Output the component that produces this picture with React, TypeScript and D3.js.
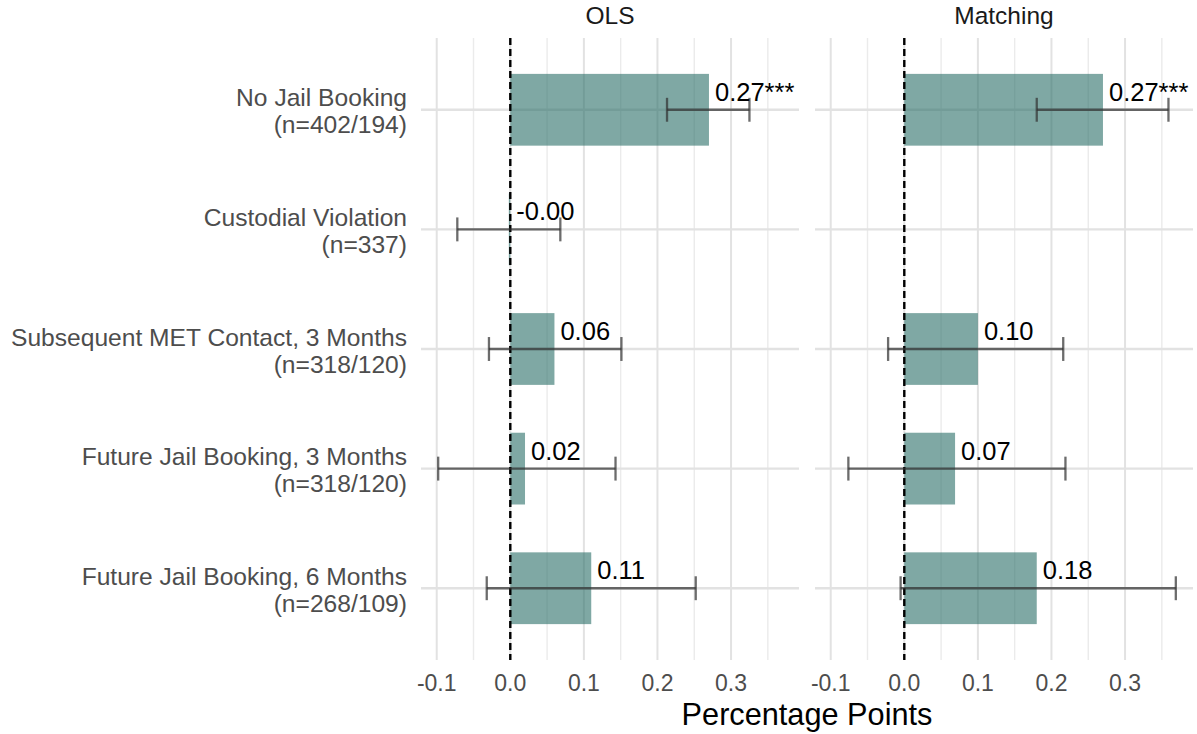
import * as d3 from "d3";

// outcome rows, top to bottom
const outcomes = [
  "No Jail Booking",
  "Custodial Violation",
  "Subsequent MET Contact, 3 Months",
  "Future Jail Booking, 3 Months",
  "Future Jail Booking, 6 Months",
];
const sampleSizes = ["(n=402/194)", "(n=337)", "(n=318/120)", "(n=318/120)", "(n=268/109)"];

const models = ["OLS", "Matching"];

const olsEstimate = [0.27, -0.002, 0.06, 0.02, 0.11];
const olsLower = [0.213, -0.072, -0.029, -0.098, -0.032];
const olsUpper = [0.325, 0.068, 0.151, 0.143, 0.252];
const olsLabel = ["0.27***", "-0.00", "0.06", "0.02", "0.11"];

const matchEstimate = [0.27, null, 0.1, 0.069, 0.18];
const matchLower = [0.18, null, -0.022, -0.076, -0.005];
const matchUpper = [0.359, null, 0.216, 0.219, 0.369];
const matchLabel = ["0.27***", null, "0.10", "0.07", "0.18"];

const majorTicks = [-0.1, 0, 0.1, 0.2, 0.3];
const minorTicks = [-0.05, 0.05, 0.15, 0.25, 0.35];

const W = 1197;
const H = 734;
const FONT = "'Liberation Sans', Arial, sans-serif";

type Row = { outcome: string; est: number; lo: number; hi: number; label: string };

function rowsFor(est: (number | null)[], lo: (number | null)[], hi: (number | null)[], lab: (string | null)[]): Row[] {
  const out: Row[] = [];
  outcomes.forEach((o, i) => {
    if (est[i] == null) return;
    out.push({ outcome: o, est: est[i] as number, lo: lo[i] as number, hi: hi[i] as number, label: lab[i] as string });
  });
  return out;
}

const panels = [
  { title: models[0], rows: rowsFor(olsEstimate, olsLower, olsUpper, olsLabel), left: 421 },
  { title: models[1], rows: rowsFor(matchEstimate, matchLower, matchUpper, matchLabel), left: 815 },
];
const panelWidth = 378;
const panelTop = 38;
const panelBottom = 660;

export default function App() {
  const all = panels.flatMap((p) => p.rows);
  const lo = d3.min(all, (d) => d.lo) as number;
  const hi = d3.max(all, (d) => d.hi) as number;
  const pad = (hi - lo) * 0.05;
  const domain: [number, number] = [lo - pad, hi + pad];

  const y = d3.scalePoint<string>().domain(outcomes).range([panelTop, panelBottom]).padding(0.6);
  const step = y.step();
  const barH = step * 0.6;
  const capH = step * 0.2;

  return (
    <div style={{ position: "absolute", left: 0, top: 0 }}>
      <svg width={W} height={H} style={{ display: "block", background: "#fff", fontFamily: FONT }}>
        {/* row labels */}
        {outcomes.map((o, i) => (
          <text key={o} textAnchor="end" fill="#4d4d4d" fontSize={24.6}>
            <tspan x={407} y={(y(o) as number) - 3.5}>{o}</tspan>
            <tspan x={407} y={(y(o) as number) + 23.5}>{sampleSizes[i]}</tspan>
          </text>
        ))}

        {panels.map((p) => {
          const x = d3.scaleLinear().domain(domain).range([p.left, p.left + panelWidth]);
          return (
            <g key={p.title}>
              <text x={p.left + panelWidth / 2} y={24} textAnchor="middle" fontSize={24.5} fill="#1a1a1a">
                {p.title}
              </text>
              {minorTicks.map((t) => (
                <line key={"mi" + t} x1={x(t)} x2={x(t)} y1={panelTop} y2={panelBottom} stroke="#ebebeb" strokeWidth={1.4} />
              ))}
              {majorTicks.map((t) => (
                <line key={"ma" + t} x1={x(t)} x2={x(t)} y1={panelTop} y2={panelBottom} stroke="#e2e2e2" strokeWidth={2} />
              ))}
              {outcomes.map((o) => (
                <line key={"h" + o} x1={p.left} x2={p.left + panelWidth} y1={y(o)} y2={y(o)} stroke="#e2e2e2" strokeWidth={2.4} />
              ))}
              {p.rows.map((d) => (
                <rect
                  key={"b" + d.outcome}
                  x={Math.min(x(0), x(d.est))}
                  width={Math.abs(x(d.est) - x(0))}
                  y={(y(d.outcome) as number) - barH / 2}
                  height={barH}
                  fill="#2a6e67"
                  fillOpacity={0.6}
                />
              ))}
              <line x1={x(0)} x2={x(0)} y1={panelTop} y2={panelBottom} stroke="#000" strokeWidth={2.4} strokeDasharray="7,4" />
              {p.rows.map((d) => {
                const cy = y(d.outcome) as number;
                return (
                  <g key={"e" + d.outcome} stroke="#333" strokeOpacity={0.72} strokeWidth={2.3}>
                    <line x1={x(d.lo)} x2={x(d.hi)} y1={cy} y2={cy} />
                    <line x1={x(d.lo)} x2={x(d.lo)} y1={cy - capH / 2} y2={cy + capH / 2} />
                    <line x1={x(d.hi)} x2={x(d.hi)} y1={cy - capH / 2} y2={cy + capH / 2} />
                  </g>
                );
              })}
              {p.rows.map((d) => (
                <text key={"l" + d.outcome} x={x(Math.max(d.est, 0)) + 6} y={(y(d.outcome) as number) - 9} fontSize={25.5} fill="#000">
                  {d.label}
                </text>
              ))}
              {majorTicks.map((t) => (
                <text key={"t" + t} x={x(t)} y={691} textAnchor="middle" fontSize={23} fill="#4d4d4d">
                  {d3.format(".1f")(t).replace("−", "-")}
                </text>
              ))}
            </g>
          );
        })}

        <text x={807} y={725} textAnchor="middle" fontSize={30.7} fill="#000">
          Percentage Points
        </text>
      </svg>
    </div>
  );
}
